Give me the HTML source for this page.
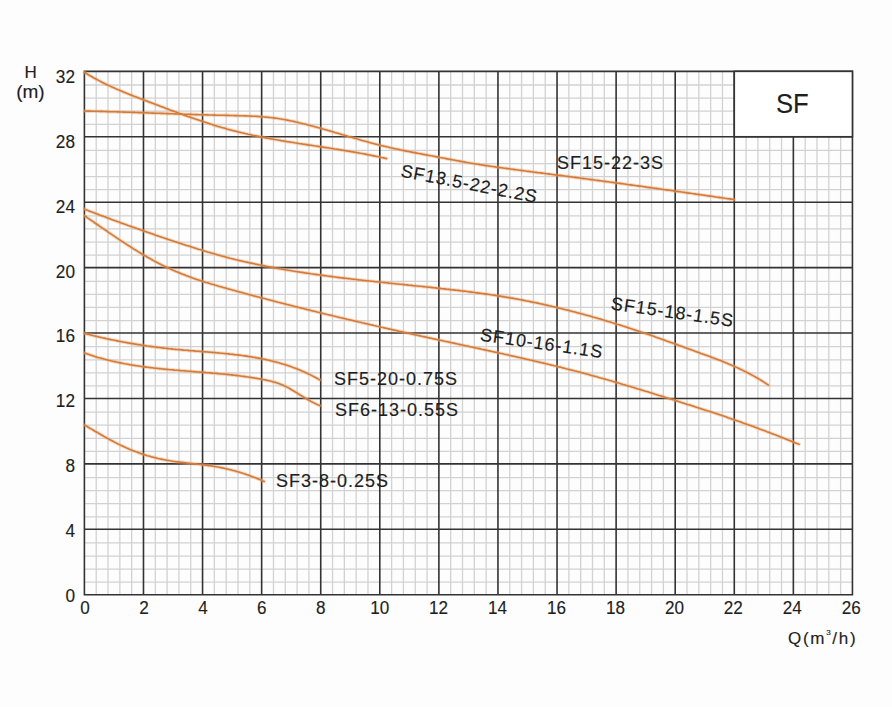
<!DOCTYPE html>
<html><head><meta charset="utf-8"><style>
html,body{margin:0;padding:0;background:#fdfdfd;}
body{width:892px;height:707px;position:relative;overflow:hidden;font-family:"Liberation Sans",sans-serif;}
</style></head><body>
<svg width="892" height="707" viewBox="0 0 892 707" style="position:absolute;left:0;top:0">
<path d="M96.22 71.34V594.70M108.03 71.34V594.70M119.85 71.34V594.70M131.66 71.34V594.70M155.30 71.34V594.70M167.11 71.34V594.70M178.93 71.34V594.70M190.74 71.34V594.70M214.38 71.34V594.70M226.19 71.34V594.70M238.01 71.34V594.70M249.82 71.34V594.70M273.46 71.34V594.70M285.27 71.34V594.70M297.09 71.34V594.70M308.90 71.34V594.70M332.54 71.34V594.70M344.35 71.34V594.70M356.17 71.34V594.70M367.98 71.34V594.70M391.62 71.34V594.70M403.43 71.34V594.70M415.25 71.34V594.70M427.06 71.34V594.70M450.70 71.34V594.70M462.51 71.34V594.70M474.33 71.34V594.70M486.14 71.34V594.70M509.78 71.34V594.70M521.59 71.34V594.70M533.41 71.34V594.70M545.22 71.34V594.70M568.86 71.34V594.70M580.67 71.34V594.70M592.49 71.34V594.70M604.30 71.34V594.70M627.94 71.34V594.70M639.75 71.34V594.70M651.57 71.34V594.70M663.38 71.34V594.70M687.02 71.34V594.70M698.83 71.34V594.70M710.65 71.34V594.70M722.46 71.34V594.70M746.10 71.34V594.70M757.91 71.34V594.70M769.73 71.34V594.70M781.54 71.34V594.70M805.18 71.34V594.70M816.99 71.34V594.70M828.81 71.34V594.70M840.62 71.34V594.70M84.40 582.22H852.44M84.40 569.13H852.44M84.40 556.05H852.44M84.40 542.96H852.44M84.40 516.80H852.44M84.40 503.71H852.44M84.40 490.63H852.44M84.40 477.54H852.44M84.40 451.38H852.44M84.40 438.29H852.44M84.40 425.21H852.44M84.40 412.12H852.44M84.40 385.96H852.44M84.40 372.87H852.44M84.40 359.79H852.44M84.40 346.70H852.44M84.40 320.54H852.44M84.40 307.45H852.44M84.40 294.37H852.44M84.40 281.28H852.44M84.40 255.12H852.44M84.40 242.03H852.44M84.40 228.95H852.44M84.40 215.86H852.44M84.40 189.70H852.44M84.40 176.61H852.44M84.40 163.53H852.44M84.40 150.44H852.44M84.40 124.28H852.44M84.40 111.19H852.44M84.40 98.11H852.44M84.40 85.02H852.44" stroke="#d2d2d2" stroke-width="1.3" fill="none"/>
<path d="M84.40 71.34V594.70M143.48 71.34V594.70M202.56 71.34V594.70M261.64 71.34V594.70M320.72 71.34V594.70M379.80 71.34V594.70M438.88 71.34V594.70M497.96 71.34V594.70M557.04 71.34V594.70M616.12 71.34V594.70M675.20 71.34V594.70M734.28 71.34V594.70M793.36 71.34V594.70M852.44 71.34V594.70M84.40 594.70H852.44M84.40 529.28H852.44M84.40 463.86H852.44M84.40 398.44H852.44M84.40 333.02H852.44M84.40 267.60H852.44M84.40 202.18H852.44M84.40 136.76H852.44M84.40 71.34H852.44" stroke="#333333" stroke-width="1.6" fill="none" stroke-linecap="square"/>
<rect x="734.28" y="71.34" width="118.16" height="65.42" fill="#fff" stroke="#333333" stroke-width="1.6"/>
<g stroke="#f0a868" stroke-width="3.6" fill="none" stroke-linecap="round" stroke-linejoin="round" opacity="0.4"><path d="M84.5 72.3L86.0 73.2L87.5 74.2L89.0 75.1L90.5 76.0L92.0 76.8L93.5 77.7L95.0 78.5L96.5 79.3L98.0 80.1L99.5 80.9L101.0 81.7L102.5 82.5L104.0 83.2L105.5 84.0L107.0 84.7L108.5 85.4L110.0 86.1L111.5 86.8L113.0 87.5L114.5 88.1L116.0 88.8L117.5 89.4L119.0 90.1L120.5 90.7L122.0 91.3L123.5 92.0L125.0 92.6L126.5 93.2L128.0 93.8L129.5 94.4L131.0 95.0L132.5 95.6L134.0 96.2L135.5 96.7L137.0 97.3L138.5 97.9L140.0 98.5L141.5 99.0L143.0 99.6L144.5 100.2L146.0 100.8L147.5 101.3L149.0 101.9L150.5 102.5L152.0 103.1L153.5 103.6L155.0 104.2L156.5 104.8L158.0 105.3L159.5 105.9L161.0 106.5L162.5 107.0L164.0 107.6L165.5 108.2L167.0 108.7L168.5 109.3L170.0 109.9L171.5 110.4L173.0 111.0L174.5 111.6L176.0 112.1L177.5 112.7L179.0 113.2L180.5 113.8L182.0 114.3L183.5 114.9L185.0 115.4L186.5 115.9L188.0 116.5L189.5 117.0L191.0 117.5L192.5 118.1L194.0 118.6L195.5 119.1L197.0 119.6L198.5 120.1L200.0 120.6L201.5 121.1L203.0 121.6L204.5 122.1L206.0 122.6L207.5 123.1L209.0 123.6L210.5 124.1L212.0 124.5L213.5 125.0L215.0 125.5L216.5 125.9L218.0 126.4L219.5 126.8L221.0 127.3L222.5 127.7L224.0 128.1L225.5 128.5L227.0 129.0L228.5 129.4L230.0 129.8L231.5 130.2L233.0 130.6L234.5 130.9L236.0 131.3L237.5 131.7L239.0 132.1L240.5 132.4L242.0 132.8L243.5 133.1L245.0 133.5L246.5 133.8L248.0 134.2L249.5 134.5L251.0 134.8L252.5 135.2L254.0 135.5L255.5 135.8L257.0 136.1L258.5 136.4L260.0 136.7L261.5 137.0L263.0 137.3L264.5 137.6L266.0 137.9L267.5 138.2L269.0 138.4L270.5 138.7L272.0 139.0L273.5 139.3L275.0 139.5L276.5 139.8L278.0 140.0L279.5 140.3L281.0 140.6L282.5 140.8L284.0 141.1L285.5 141.3L287.0 141.6L288.5 141.8L290.0 142.1L291.5 142.3L293.0 142.5L294.5 142.8L296.0 143.0L297.5 143.2L299.0 143.5L300.5 143.7L302.0 143.9L303.5 144.2L305.0 144.4L306.5 144.6L308.0 144.9L309.5 145.1L311.0 145.3L312.5 145.5L314.0 145.8L315.5 146.0L317.0 146.2L318.5 146.4L320.0 146.7L321.5 146.9L323.0 147.1L324.5 147.4L326.0 147.6L327.5 147.8L329.0 148.0L330.5 148.3L332.0 148.5L333.5 148.7L335.0 149.0L336.5 149.2L338.0 149.4L339.5 149.7L341.0 149.9L342.5 150.2L344.0 150.4L345.5 150.7L347.0 150.9L348.5 151.2L350.0 151.4L351.5 151.7L353.0 151.9L354.5 152.2L356.0 152.4L357.5 152.7L359.0 153.0L360.5 153.3L362.0 153.5L363.5 153.8L365.0 154.1L366.5 154.4L368.0 154.7L369.5 155.0L371.0 155.3L372.5 155.6L374.0 155.9L375.5 156.2L377.0 156.5L378.5 156.8L380.0 157.1L381.5 157.5L383.0 157.8L384.5 158.1L386.0 158.5L386.5 158.6"/><path d="M84.5 111.0L86.0 111.0L87.5 111.1L89.0 111.1L90.5 111.1L92.0 111.2L93.5 111.2L95.0 111.2L96.5 111.3L98.0 111.3L99.5 111.4L101.0 111.4L102.5 111.4L104.0 111.5L105.5 111.5L107.0 111.6L108.5 111.6L110.0 111.7L111.5 111.7L113.0 111.7L114.5 111.8L116.0 111.8L117.5 111.9L119.0 111.9L120.5 112.0L122.0 112.0L123.5 112.1L125.0 112.1L126.5 112.2L128.0 112.2L129.5 112.3L131.0 112.3L132.5 112.4L134.0 112.4L135.5 112.5L137.0 112.5L138.5 112.6L140.0 112.6L141.5 112.7L143.0 112.7L144.5 112.8L146.0 112.8L147.5 112.9L149.0 113.0L150.5 113.0L152.0 113.1L153.5 113.1L155.0 113.2L156.5 113.2L158.0 113.3L159.5 113.3L161.0 113.4L162.5 113.4L164.0 113.5L165.5 113.5L167.0 113.6L168.5 113.6L170.0 113.7L171.5 113.8L173.0 113.8L174.5 113.9L176.0 113.9L177.5 114.0L179.0 114.0L180.5 114.1L182.0 114.1L183.5 114.2L185.0 114.2L186.5 114.3L188.0 114.3L189.5 114.4L191.0 114.4L192.5 114.5L194.0 114.5L195.5 114.6L197.0 114.6L198.5 114.7L200.0 114.7L201.5 114.7L203.0 114.8L204.5 114.8L206.0 114.9L207.5 114.9L209.0 115.0L210.5 115.0L212.0 115.0L213.5 115.1L215.0 115.1L216.5 115.2L218.0 115.2L219.5 115.2L221.0 115.3L222.5 115.3L224.0 115.3L225.5 115.4L227.0 115.4L228.5 115.4L230.0 115.5L231.5 115.5L233.0 115.5L234.5 115.6L236.0 115.6L237.5 115.6L239.0 115.7L240.5 115.7L242.0 115.8L243.5 115.8L245.0 115.9L246.5 115.9L248.0 116.0L249.5 116.0L251.0 116.1L252.5 116.2L254.0 116.2L255.5 116.3L257.0 116.4L258.5 116.5L260.0 116.6L261.5 116.7L263.0 116.8L264.5 117.0L266.0 117.1L267.5 117.2L269.0 117.4L270.5 117.5L272.0 117.7L273.5 117.9L275.0 118.1L276.5 118.3L278.0 118.5L279.5 118.8L281.0 119.0L282.5 119.3L284.0 119.5L285.5 119.8L287.0 120.1L288.5 120.4L290.0 120.7L291.5 121.0L293.0 121.3L294.5 121.6L296.0 122.0L297.5 122.3L299.0 122.7L300.5 123.0L302.0 123.4L303.5 123.8L305.0 124.1L306.5 124.5L308.0 124.9L309.5 125.3L311.0 125.7L312.5 126.1L314.0 126.5L315.5 126.9L317.0 127.3L318.5 127.7L320.0 128.1L321.5 128.5L323.0 129.0L324.5 129.4L326.0 129.8L327.5 130.3L329.0 130.7L330.5 131.1L332.0 131.6L333.5 132.0L335.0 132.5L336.5 132.9L338.0 133.3L339.5 133.8L341.0 134.2L342.5 134.7L344.0 135.1L345.5 135.6L347.0 136.0L348.5 136.5L350.0 136.9L351.5 137.3L353.0 137.8L354.5 138.2L356.0 138.6L357.5 139.1L359.0 139.5L360.5 139.9L362.0 140.4L363.5 140.8L365.0 141.2L366.5 141.6L368.0 142.0L369.5 142.5L371.0 142.9L372.5 143.3L374.0 143.7L375.5 144.1L377.0 144.4L378.5 144.8L380.0 145.2L381.5 145.6L383.0 145.9L384.5 146.3L386.0 146.6L387.5 147.0L389.0 147.3L390.5 147.7L392.0 148.0L393.5 148.4L395.0 148.7L396.5 149.0L398.0 149.3L399.5 149.6L401.0 150.0L402.5 150.3L404.0 150.6L405.5 150.9L407.0 151.2L408.5 151.5L410.0 151.8L411.5 152.1L413.0 152.4L414.5 152.6L416.0 152.9L417.5 153.2L419.0 153.5L420.5 153.8L422.0 154.1L423.5 154.4L425.0 154.6L426.5 154.9L428.0 155.2L429.5 155.5L431.0 155.8L432.5 156.0L434.0 156.3L435.5 156.6L437.0 156.9L438.5 157.2L440.0 157.5L441.5 157.7L443.0 158.0L444.5 158.3L446.0 158.6L447.5 158.9L449.0 159.2L450.5 159.4L452.0 159.7L453.5 160.0L455.0 160.3L456.5 160.6L458.0 160.8L459.5 161.1L461.0 161.4L462.5 161.7L464.0 161.9L465.5 162.2L467.0 162.5L468.5 162.7L470.0 163.0L471.5 163.2L473.0 163.5L474.5 163.7L476.0 164.0L477.5 164.2L479.0 164.4L480.5 164.7L482.0 164.9L483.5 165.2L485.0 165.4L486.5 165.6L488.0 165.8L489.5 166.1L491.0 166.3L492.5 166.5L494.0 166.7L495.5 166.9L497.0 167.2L498.5 167.4L500.0 167.6L501.5 167.8L503.0 168.0L504.5 168.2L506.0 168.4L507.5 168.6L509.0 168.8L510.5 169.0L512.0 169.2L513.5 169.4L515.0 169.6L516.5 169.8L518.0 170.0L519.5 170.2L521.0 170.4L522.5 170.6L524.0 170.8L525.5 171.0L527.0 171.2L528.5 171.4L530.0 171.6L531.5 171.8L533.0 172.0L534.5 172.2L536.0 172.4L537.5 172.6L539.0 172.7L540.5 172.9L542.0 173.1L543.5 173.3L545.0 173.5L546.5 173.7L548.0 173.9L549.5 174.1L551.0 174.3L552.5 174.5L554.0 174.7L555.5 174.9L557.0 175.1L558.5 175.2L560.0 175.4L561.5 175.6L563.0 175.8L564.5 176.0L566.0 176.2L567.5 176.4L569.0 176.6L570.5 176.8L572.0 177.0L573.5 177.2L575.0 177.4L576.5 177.6L578.0 177.8L579.5 178.0L581.0 178.2L582.5 178.4L584.0 178.6L585.5 178.8L587.0 179.0L588.5 179.2L590.0 179.4L591.5 179.6L593.0 179.8L594.5 180.0L596.0 180.2L597.5 180.4L599.0 180.6L600.5 180.8L602.0 181.0L603.5 181.2L605.0 181.4L606.5 181.6L608.0 181.8L609.5 182.0L611.0 182.2L612.5 182.4L614.0 182.6L615.5 182.8L617.0 183.0L618.5 183.2L620.0 183.4L621.5 183.6L623.0 183.8L624.5 184.0L626.0 184.2L627.5 184.5L629.0 184.7L630.5 184.9L632.0 185.1L633.5 185.3L635.0 185.5L636.5 185.7L638.0 185.9L639.5 186.1L641.0 186.3L642.5 186.5L644.0 186.7L645.5 186.9L647.0 187.2L648.5 187.4L650.0 187.6L651.5 187.8L653.0 188.0L654.5 188.2L656.0 188.4L657.5 188.6L659.0 188.8L660.5 189.0L662.0 189.3L663.5 189.5L665.0 189.7L666.5 189.9L668.0 190.1L669.5 190.3L671.0 190.5L672.5 190.7L674.0 190.9L675.5 191.2L677.0 191.4L678.5 191.6L680.0 191.8L681.5 192.0L683.0 192.2L684.5 192.4L686.0 192.7L687.5 192.9L689.0 193.1L690.5 193.3L692.0 193.5L693.5 193.7L695.0 193.9L696.5 194.2L698.0 194.4L699.5 194.6L701.0 194.8L702.5 195.0L704.0 195.2L705.5 195.4L707.0 195.7L708.5 195.9L710.0 196.1L711.5 196.3L713.0 196.5L714.5 196.7L716.0 197.0L717.5 197.2L719.0 197.4L720.5 197.6L722.0 197.8L723.5 198.0L725.0 198.3L726.5 198.5L728.0 198.7L729.5 198.9L731.0 199.1L732.5 199.3L734.0 199.6L734.2 199.6"/><path d="M84.5 209.2L86.0 209.8L87.5 210.3L89.0 210.9L90.5 211.5L92.0 212.1L93.5 212.6L95.0 213.2L96.5 213.8L98.0 214.3L99.5 214.9L101.0 215.4L102.5 216.0L104.0 216.6L105.5 217.1L107.0 217.7L108.5 218.2L110.0 218.8L111.5 219.4L113.0 219.9L114.5 220.5L116.0 221.0L117.5 221.6L119.0 222.1L120.5 222.7L122.0 223.2L123.5 223.7L125.0 224.3L126.5 224.8L128.0 225.4L129.5 225.9L131.0 226.4L132.5 227.0L134.0 227.5L135.5 228.0L137.0 228.6L138.5 229.1L140.0 229.6L141.5 230.2L143.0 230.7L144.5 231.2L146.0 231.7L147.5 232.3L149.0 232.8L150.5 233.3L152.0 233.8L153.5 234.3L155.0 234.9L156.5 235.4L158.0 235.9L159.5 236.4L161.0 236.9L162.5 237.4L164.0 237.9L165.5 238.4L167.0 238.9L168.5 239.4L170.0 239.9L171.5 240.4L173.0 240.9L174.5 241.4L176.0 241.9L177.5 242.4L179.0 242.9L180.5 243.4L182.0 243.9L183.5 244.4L185.0 244.9L186.5 245.4L188.0 245.8L189.5 246.3L191.0 246.8L192.5 247.3L194.0 247.7L195.5 248.2L197.0 248.7L198.5 249.2L200.0 249.6L201.5 250.1L203.0 250.5L204.5 251.0L206.0 251.4L207.5 251.9L209.0 252.3L210.5 252.8L212.0 253.2L213.5 253.6L215.0 254.1L216.5 254.5L218.0 254.9L219.5 255.3L221.0 255.8L222.5 256.2L224.0 256.6L225.5 257.0L227.0 257.4L228.5 257.8L230.0 258.2L231.5 258.5L233.0 258.9L234.5 259.3L236.0 259.7L237.5 260.0L239.0 260.4L240.5 260.7L242.0 261.1L243.5 261.4L245.0 261.8L246.5 262.1L248.0 262.4L249.5 262.8L251.0 263.1L252.5 263.4L254.0 263.7L255.5 264.1L257.0 264.4L258.5 264.7L260.0 265.0L261.5 265.3L263.0 265.6L264.5 265.9L266.0 266.2L267.5 266.5L269.0 266.8L270.5 267.0L272.0 267.3L273.5 267.6L275.0 267.9L276.5 268.2L278.0 268.4L279.5 268.7L281.0 269.0L282.5 269.2L284.0 269.5L285.5 269.7L287.0 270.0L288.5 270.3L290.0 270.5L291.5 270.7L293.0 271.0L294.5 271.2L296.0 271.5L297.5 271.7L299.0 271.9L300.5 272.2L302.0 272.4L303.5 272.6L305.0 272.9L306.5 273.1L308.0 273.3L309.5 273.5L311.0 273.8L312.5 274.0L314.0 274.2L315.5 274.4L317.0 274.6L318.5 274.8L320.0 275.0L321.5 275.2L323.0 275.4L324.5 275.6L326.0 275.8L327.5 276.0L329.0 276.2L330.5 276.4L332.0 276.6L333.5 276.8L335.0 277.0L336.5 277.2L338.0 277.4L339.5 277.6L341.0 277.7L342.5 277.9L344.0 278.1L345.5 278.3L347.0 278.5L348.5 278.6L350.0 278.8L351.5 279.0L353.0 279.2L354.5 279.3L356.0 279.5L357.5 279.7L359.0 279.9L360.5 280.0L362.0 280.2L363.5 280.4L365.0 280.5L366.5 280.7L368.0 280.8L369.5 281.0L371.0 281.2L372.5 281.3L374.0 281.5L375.5 281.7L377.0 281.8L378.5 282.0L380.0 282.1L381.5 282.3L383.0 282.5L384.5 282.6L386.0 282.8L387.5 282.9L389.0 283.1L390.5 283.2L392.0 283.4L393.5 283.5L395.0 283.7L396.5 283.9L398.0 284.0L399.5 284.2L401.0 284.3L402.5 284.5L404.0 284.6L405.5 284.8L407.0 284.9L408.5 285.1L410.0 285.2L411.5 285.4L413.0 285.6L414.5 285.7L416.0 285.9L417.5 286.0L419.0 286.2L420.5 286.3L422.0 286.5L423.5 286.6L425.0 286.8L426.5 287.0L428.0 287.1L429.5 287.3L431.0 287.4L432.5 287.6L434.0 287.8L435.5 287.9L437.0 288.1L438.5 288.2L440.0 288.4L441.5 288.6L443.0 288.7L444.5 288.9L446.0 289.1L447.5 289.2L449.0 289.4L450.5 289.6L452.0 289.7L453.5 289.9L455.0 290.1L456.5 290.3L458.0 290.4L459.5 290.6L461.0 290.8L462.5 291.0L464.0 291.1L465.5 291.3L467.0 291.5L468.5 291.7L470.0 291.9L471.5 292.1L473.0 292.3L474.5 292.5L476.0 292.7L477.5 292.9L479.0 293.1L480.5 293.3L482.0 293.5L483.5 293.7L485.0 293.9L486.5 294.1L488.0 294.3L489.5 294.5L491.0 294.8L492.5 295.0L494.0 295.2L495.5 295.4L497.0 295.7L498.5 295.9L500.0 296.1L501.5 296.4L503.0 296.6L504.5 296.9L506.0 297.1L507.5 297.4L509.0 297.6L510.5 297.9L512.0 298.1L513.5 298.4L515.0 298.7L516.5 298.9L518.0 299.2L519.5 299.5L521.0 299.8L522.5 300.1L524.0 300.4L525.5 300.7L527.0 301.0L528.5 301.3L530.0 301.6L531.5 301.9L533.0 302.2L534.5 302.5L536.0 302.8L537.5 303.1L539.0 303.4L540.5 303.8L542.0 304.1L543.5 304.4L545.0 304.8L546.5 305.1L548.0 305.4L549.5 305.8L551.0 306.1L552.5 306.5L554.0 306.8L555.5 307.2L557.0 307.6L558.5 307.9L560.0 308.3L561.5 308.6L563.0 309.0L564.5 309.4L566.0 309.8L567.5 310.1L569.0 310.5L570.5 310.9L572.0 311.3L573.5 311.7L575.0 312.1L576.5 312.5L578.0 312.9L579.5 313.3L581.0 313.7L582.5 314.1L584.0 314.5L585.5 314.9L587.0 315.3L588.5 315.7L590.0 316.1L591.5 316.5L593.0 317.0L594.5 317.4L596.0 317.8L597.5 318.3L599.0 318.7L600.5 319.1L602.0 319.6L603.5 320.0L605.0 320.5L606.5 320.9L608.0 321.4L609.5 321.8L611.0 322.3L612.5 322.8L614.0 323.2L615.5 323.7L617.0 324.2L618.5 324.6L620.0 325.1L621.5 325.6L623.0 326.1L624.5 326.5L626.0 327.0L627.5 327.5L629.0 328.0L630.5 328.5L632.0 329.0L633.5 329.5L635.0 330.0L636.5 330.5L638.0 331.0L639.5 331.5L641.0 332.0L642.5 332.5L644.0 333.0L645.5 333.5L647.0 334.1L648.5 334.6L650.0 335.1L651.5 335.6L653.0 336.1L654.5 336.6L656.0 337.2L657.5 337.7L659.0 338.2L660.5 338.8L662.0 339.3L663.5 339.8L665.0 340.3L666.5 340.9L668.0 341.4L669.5 342.0L671.0 342.5L672.5 343.0L674.0 343.6L675.5 344.1L677.0 344.6L678.5 345.2L680.0 345.7L681.5 346.3L683.0 346.8L684.5 347.4L686.0 347.9L687.5 348.4L689.0 349.0L690.5 349.5L692.0 350.1L693.5 350.6L695.0 351.2L696.5 351.7L698.0 352.3L699.5 352.8L701.0 353.4L702.5 353.9L704.0 354.4L705.5 355.0L707.0 355.5L708.5 356.1L710.0 356.6L711.5 357.2L713.0 357.8L714.5 358.3L716.0 358.9L717.5 359.5L719.0 360.1L720.5 360.6L722.0 361.2L723.5 361.8L725.0 362.4L726.5 363.0L728.0 363.7L729.5 364.3L731.0 364.9L732.5 365.6L734.0 366.2L735.5 366.9L737.0 367.6L738.5 368.3L740.0 369.0L741.5 369.7L743.0 370.4L744.5 371.2L746.0 371.9L747.5 372.7L749.0 373.5L750.5 374.3L752.0 375.1L753.5 375.9L755.0 376.7L756.5 377.6L758.0 378.5L759.5 379.4L761.0 380.3L762.5 381.2L764.0 382.2L765.5 383.1L767.0 384.1L768.4 385.1"/><path d="M84.5 215.7L86.0 216.7L87.5 217.8L89.0 218.8L90.5 219.8L92.0 220.9L93.5 221.9L95.0 223.0L96.5 224.0L98.0 225.0L99.5 226.1L101.0 227.1L102.5 228.2L104.0 229.2L105.5 230.2L107.0 231.2L108.5 232.3L110.0 233.3L111.5 234.3L113.0 235.3L114.5 236.4L116.0 237.4L117.5 238.4L119.0 239.4L120.5 240.4L122.0 241.4L123.5 242.3L125.0 243.3L126.5 244.3L128.0 245.3L129.5 246.2L131.0 247.2L132.5 248.1L134.0 249.1L135.5 250.0L137.0 250.9L138.5 251.9L140.0 252.8L141.5 253.7L143.0 254.6L144.5 255.5L146.0 256.3L147.5 257.2L149.0 258.0L150.5 258.9L152.0 259.7L153.5 260.6L155.0 261.4L156.5 262.2L158.0 263.0L159.5 263.7L161.0 264.5L162.5 265.3L164.0 266.0L165.5 266.7L167.0 267.4L168.5 268.1L170.0 268.8L171.5 269.5L173.0 270.2L174.5 270.8L176.0 271.5L177.5 272.1L179.0 272.7L180.5 273.3L182.0 273.9L183.5 274.5L185.0 275.1L186.5 275.7L188.0 276.2L189.5 276.8L191.0 277.3L192.5 277.9L194.0 278.4L195.5 278.9L197.0 279.4L198.5 279.9L200.0 280.4L201.5 280.9L203.0 281.4L204.5 281.9L206.0 282.4L207.5 282.8L209.0 283.3L210.5 283.8L212.0 284.2L213.5 284.6L215.0 285.1L216.5 285.5L218.0 286.0L219.5 286.4L221.0 286.8L222.5 287.3L224.0 287.7L225.5 288.1L227.0 288.5L228.5 288.9L230.0 289.3L231.5 289.8L233.0 290.2L234.5 290.6L236.0 291.0L237.5 291.4L239.0 291.8L240.5 292.2L242.0 292.6L243.5 293.0L245.0 293.4L246.5 293.8L248.0 294.3L249.5 294.7L251.0 295.1L252.5 295.5L254.0 295.9L255.5 296.3L257.0 296.7L258.5 297.1L260.0 297.5L261.5 297.9L263.0 298.2L264.5 298.6L266.0 299.0L267.5 299.4L269.0 299.8L270.5 300.2L272.0 300.6L273.5 301.0L275.0 301.4L276.5 301.8L278.0 302.2L279.5 302.5L281.0 302.9L282.5 303.3L284.0 303.7L285.5 304.1L287.0 304.5L288.5 304.8L290.0 305.2L291.5 305.6L293.0 306.0L294.5 306.4L296.0 306.7L297.5 307.1L299.0 307.5L300.5 307.9L302.0 308.2L303.5 308.6L305.0 309.0L306.5 309.4L308.0 309.7L309.5 310.1L311.0 310.5L312.5 310.9L314.0 311.2L315.5 311.6L317.0 312.0L318.5 312.3L320.0 312.7L321.5 313.1L323.0 313.4L324.5 313.8L326.0 314.2L327.5 314.5L329.0 314.9L330.5 315.2L332.0 315.6L333.5 316.0L335.0 316.3L336.5 316.7L338.0 317.0L339.5 317.4L341.0 317.8L342.5 318.1L344.0 318.5L345.5 318.8L347.0 319.2L348.5 319.5L350.0 319.9L351.5 320.2L353.0 320.6L354.5 320.9L356.0 321.3L357.5 321.6L359.0 322.0L360.5 322.3L362.0 322.7L363.5 323.0L365.0 323.4L366.5 323.7L368.0 324.1L369.5 324.4L371.0 324.8L372.5 325.1L374.0 325.5L375.5 325.8L377.0 326.2L378.5 326.5L380.0 326.8L381.5 327.2L383.0 327.5L384.5 327.9L386.0 328.2L387.5 328.6L389.0 328.9L390.5 329.2L392.0 329.6L393.5 329.9L395.0 330.2L396.5 330.6L398.0 330.9L399.5 331.3L401.0 331.6L402.5 331.9L404.0 332.3L405.5 332.6L407.0 332.9L408.5 333.3L410.0 333.6L411.5 333.9L413.0 334.3L414.5 334.6L416.0 334.9L417.5 335.3L419.0 335.6L420.5 335.9L422.0 336.3L423.5 336.6L425.0 336.9L426.5 337.2L428.0 337.6L429.5 337.9L431.0 338.2L432.5 338.6L434.0 338.9L435.5 339.2L437.0 339.5L438.5 339.9L440.0 340.2L441.5 340.5L443.0 340.8L444.5 341.2L446.0 341.5L447.5 341.8L449.0 342.1L450.5 342.5L452.0 342.8L453.5 343.1L455.0 343.4L456.5 343.7L458.0 344.1L459.5 344.4L461.0 344.7L462.5 345.0L464.0 345.4L465.5 345.7L467.0 346.0L468.5 346.3L470.0 346.7L471.5 347.0L473.0 347.3L474.5 347.6L476.0 348.0L477.5 348.3L479.0 348.6L480.5 348.9L482.0 349.3L483.5 349.6L485.0 349.9L486.5 350.2L488.0 350.6L489.5 350.9L491.0 351.2L492.5 351.5L494.0 351.9L495.5 352.2L497.0 352.5L498.5 352.9L500.0 353.2L501.5 353.5L503.0 353.8L504.5 354.2L506.0 354.5L507.5 354.8L509.0 355.2L510.5 355.5L512.0 355.9L513.5 356.2L515.0 356.5L516.5 356.9L518.0 357.2L519.5 357.5L521.0 357.9L522.5 358.2L524.0 358.6L525.5 358.9L527.0 359.3L528.5 359.6L530.0 360.0L531.5 360.3L533.0 360.6L534.5 361.0L536.0 361.4L537.5 361.7L539.0 362.1L540.5 362.4L542.0 362.8L543.5 363.1L545.0 363.5L546.5 363.8L548.0 364.2L549.5 364.6L551.0 364.9L552.5 365.3L554.0 365.7L555.5 366.0L557.0 366.4L558.5 366.8L560.0 367.1L561.5 367.5L563.0 367.9L564.5 368.3L566.0 368.7L567.5 369.0L569.0 369.4L570.5 369.8L572.0 370.2L573.5 370.6L575.0 371.0L576.5 371.3L578.0 371.7L579.5 372.1L581.0 372.5L582.5 372.9L584.0 373.3L585.5 373.7L587.0 374.1L588.5 374.5L590.0 374.9L591.5 375.4L593.0 375.8L594.5 376.2L596.0 376.6L597.5 377.0L599.0 377.4L600.5 377.9L602.0 378.3L603.5 378.7L605.0 379.1L606.5 379.6L608.0 380.0L609.5 380.4L611.0 380.8L612.5 381.3L614.0 381.7L615.5 382.2L617.0 382.6L618.5 383.0L620.0 383.5L621.5 383.9L623.0 384.4L624.5 384.8L626.0 385.3L627.5 385.7L629.0 386.2L630.5 386.6L632.0 387.1L633.5 387.5L635.0 388.0L636.5 388.4L638.0 388.9L639.5 389.3L641.0 389.8L642.5 390.3L644.0 390.7L645.5 391.2L647.0 391.6L648.5 392.1L650.0 392.6L651.5 393.0L653.0 393.5L654.5 394.0L656.0 394.4L657.5 394.9L659.0 395.4L660.5 395.8L662.0 396.3L663.5 396.8L665.0 397.3L666.5 397.7L668.0 398.2L669.5 398.7L671.0 399.1L672.5 399.6L674.0 400.1L675.5 400.6L677.0 401.0L678.5 401.5L680.0 402.0L681.5 402.5L683.0 402.9L684.5 403.4L686.0 403.9L687.5 404.4L689.0 404.8L690.5 405.3L692.0 405.8L693.5 406.3L695.0 406.8L696.5 407.3L698.0 407.7L699.5 408.2L701.0 408.7L702.5 409.2L704.0 409.7L705.5 410.2L707.0 410.7L708.5 411.1L710.0 411.6L711.5 412.1L713.0 412.6L714.5 413.1L716.0 413.6L717.5 414.1L719.0 414.6L720.5 415.1L722.0 415.6L723.5 416.1L725.0 416.6L726.5 417.1L728.0 417.7L729.5 418.2L731.0 418.7L732.5 419.2L734.0 419.7L735.5 420.2L737.0 420.8L738.5 421.3L740.0 421.8L741.5 422.3L743.0 422.9L744.5 423.4L746.0 423.9L747.5 424.5L749.0 425.0L750.5 425.5L752.0 426.1L753.5 426.6L755.0 427.2L756.5 427.7L758.0 428.3L759.5 428.9L761.0 429.4L762.5 430.0L764.0 430.5L765.5 431.1L767.0 431.7L768.5 432.2L770.0 432.8L771.5 433.4L773.0 434.0L774.5 434.6L776.0 435.1L777.5 435.7L779.0 436.3L780.5 436.9L782.0 437.5L783.5 438.1L785.0 438.7L786.5 439.3L788.0 439.9L789.5 440.5L791.0 441.1L792.5 441.7L794.0 442.3L795.5 442.9L797.0 443.5L798.5 444.1L799.1 444.3"/><path d="M84.5 333.4L86.0 333.8L87.5 334.2L89.0 334.5L90.5 334.9L92.0 335.3L93.5 335.7L95.0 336.0L96.5 336.4L98.0 336.7L99.5 337.1L101.0 337.4L102.5 337.8L104.0 338.1L105.5 338.4L107.0 338.8L108.5 339.1L110.0 339.4L111.5 339.7L113.0 340.0L114.5 340.3L116.0 340.6L117.5 340.9L119.0 341.2L120.5 341.5L122.0 341.8L123.5 342.1L125.0 342.3L126.5 342.6L128.0 342.9L129.5 343.1L131.0 343.4L132.5 343.6L134.0 343.9L135.5 344.1L137.0 344.4L138.5 344.6L140.0 344.8L141.5 345.1L143.0 345.3L144.5 345.5L146.0 345.7L147.5 346.0L149.0 346.2L150.5 346.4L152.0 346.6L153.5 346.8L155.0 347.0L156.5 347.2L158.0 347.4L159.5 347.5L161.0 347.7L162.5 347.9L164.0 348.1L165.5 348.2L167.0 348.4L168.5 348.6L170.0 348.7L171.5 348.9L173.0 349.1L174.5 349.2L176.0 349.4L177.5 349.5L179.0 349.6L180.5 349.8L182.0 349.9L183.5 350.1L185.0 350.2L186.5 350.3L188.0 350.4L189.5 350.6L191.0 350.7L192.5 350.8L194.0 350.9L195.5 351.1L197.0 351.2L198.5 351.3L200.0 351.4L201.5 351.5L203.0 351.7L204.5 351.8L206.0 351.9L207.5 352.0L209.0 352.1L210.5 352.3L212.0 352.4L213.5 352.5L215.0 352.6L216.5 352.8L218.0 352.9L219.5 353.0L221.0 353.2L222.5 353.3L224.0 353.5L225.5 353.6L227.0 353.7L228.5 353.9L230.0 354.1L231.5 354.2L233.0 354.4L234.5 354.6L236.0 354.7L237.5 354.9L239.0 355.1L240.5 355.3L242.0 355.5L243.5 355.7L245.0 355.9L246.5 356.1L248.0 356.4L249.5 356.6L251.0 356.8L252.5 357.1L254.0 357.3L255.5 357.6L257.0 357.9L258.5 358.1L260.0 358.4L261.5 358.7L263.0 359.0L264.5 359.3L266.0 359.6L267.5 360.0L269.0 360.3L270.5 360.7L272.0 361.0L273.5 361.4L275.0 361.8L276.5 362.2L278.0 362.6L279.5 363.0L281.0 363.4L282.5 363.9L284.0 364.3L285.5 364.8L287.0 365.3L288.5 365.8L290.0 366.3L291.5 366.8L293.0 367.4L294.5 367.9L296.0 368.5L297.5 369.1L299.0 369.7L300.5 370.3L302.0 371.0L303.5 371.6L305.0 372.3L306.5 373.0L308.0 373.7L309.5 374.4L311.0 375.1L312.5 375.9L314.0 376.7L315.5 377.5L317.0 378.3L318.5 379.1L319.8 379.9"/><path d="M84.5 353.0L86.0 353.5L87.5 354.0L89.0 354.5L90.5 355.0L92.0 355.5L93.5 356.0L95.0 356.5L96.5 356.9L98.0 357.4L99.5 357.8L101.0 358.2L102.5 358.6L104.0 359.0L105.5 359.4L107.0 359.8L108.5 360.2L110.0 360.5L111.5 360.9L113.0 361.3L114.5 361.6L116.0 361.9L117.5 362.3L119.0 362.6L120.5 362.9L122.0 363.2L123.5 363.5L125.0 363.8L126.5 364.0L128.0 364.3L129.5 364.6L131.0 364.8L132.5 365.1L134.0 365.3L135.5 365.6L137.0 365.8L138.5 366.0L140.0 366.2L141.5 366.5L143.0 366.7L144.5 366.9L146.0 367.1L147.5 367.3L149.0 367.5L150.5 367.6L152.0 367.8L153.5 368.0L155.0 368.2L156.5 368.3L158.0 368.5L159.5 368.6L161.0 368.8L162.5 369.0L164.0 369.1L165.5 369.3L167.0 369.4L168.5 369.5L170.0 369.7L171.5 369.8L173.0 369.9L174.5 370.1L176.0 370.2L177.5 370.3L179.0 370.4L180.5 370.6L182.0 370.7L183.5 370.8L185.0 370.9L186.5 371.0L188.0 371.2L189.5 371.3L191.0 371.4L192.5 371.5L194.0 371.6L195.5 371.7L197.0 371.9L198.5 372.0L200.0 372.1L201.5 372.2L203.0 372.3L204.5 372.4L206.0 372.6L207.5 372.7L209.0 372.8L210.5 372.9L212.0 373.1L213.5 373.2L215.0 373.3L216.5 373.4L218.0 373.6L219.5 373.7L221.0 373.9L222.5 374.0L224.0 374.1L225.5 374.3L227.0 374.4L228.5 374.6L230.0 374.8L231.5 374.9L233.0 375.1L234.5 375.3L236.0 375.4L237.5 375.6L239.0 375.8L240.5 376.0L242.0 376.2L243.5 376.4L245.0 376.6L246.5 376.8L248.0 377.0L249.5 377.2L251.0 377.4L252.5 377.7L254.0 377.9L255.5 378.2L257.0 378.4L258.5 378.7L260.0 378.9L261.5 379.2L263.0 379.5L264.5 379.8L266.0 380.1L267.5 380.4L269.0 380.7L270.5 381.1L272.0 381.5L273.5 381.9L275.0 382.3L276.5 382.8L278.0 383.3L279.5 383.8L281.0 384.4L282.5 385.0L284.0 385.7L285.5 386.4L287.0 387.1L288.5 387.9L290.0 388.8L291.5 389.7L293.0 390.6L294.5 391.5L296.0 392.4L297.5 393.3L299.0 394.3L300.5 395.2L302.0 396.1L303.5 397.0L305.0 397.9L306.5 398.8L308.0 399.7L309.5 400.5L311.0 401.4L312.5 402.2L314.0 402.9L315.5 403.7L317.0 404.4L318.5 405.1L319.8 405.6"/><path d="M84.5 425.1L86.0 425.9L87.5 426.8L89.0 427.7L90.5 428.6L92.0 429.4L93.5 430.3L95.0 431.2L96.5 432.0L98.0 432.9L99.5 433.8L101.0 434.7L102.5 435.5L104.0 436.4L105.5 437.2L107.0 438.1L108.5 438.9L110.0 439.7L111.5 440.5L113.0 441.3L114.5 442.1L116.0 442.9L117.5 443.7L119.0 444.4L120.5 445.1L122.0 445.8L123.5 446.5L125.0 447.2L126.5 447.9L128.0 448.5L129.5 449.2L131.0 449.8L132.5 450.4L134.0 451.0L135.5 451.6L137.0 452.1L138.5 452.7L140.0 453.2L141.5 453.7L143.0 454.2L144.5 454.7L146.0 455.2L147.5 455.7L149.0 456.1L150.5 456.5L152.0 456.9L153.5 457.3L155.0 457.7L156.5 458.1L158.0 458.5L159.5 458.8L161.0 459.1L162.5 459.4L164.0 459.7L165.5 460.0L167.0 460.3L168.5 460.5L170.0 460.8L171.5 461.0L173.0 461.3L174.5 461.5L176.0 461.7L177.5 461.9L179.0 462.1L180.5 462.3L182.0 462.4L183.5 462.6L185.0 462.8L186.5 463.0L188.0 463.1L189.5 463.3L191.0 463.5L192.5 463.6L194.0 463.8L195.5 463.9L197.0 464.1L198.5 464.3L200.0 464.5L201.5 464.6L203.0 464.8L204.5 465.0L206.0 465.2L207.5 465.4L209.0 465.6L210.5 465.8L212.0 466.0L213.5 466.3L215.0 466.5L216.5 466.8L218.0 467.0L219.5 467.3L221.0 467.6L222.5 467.9L224.0 468.2L225.5 468.6L227.0 468.9L228.5 469.3L230.0 469.6L231.5 470.0L233.0 470.4L234.5 470.8L236.0 471.2L237.5 471.7L239.0 472.1L240.5 472.6L242.0 473.1L243.5 473.6L245.0 474.0L246.5 474.6L248.0 475.1L249.5 475.6L251.0 476.2L252.5 476.7L254.0 477.3L255.5 477.8L257.0 478.4L258.5 479.0L260.0 479.6L261.5 480.3L263.0 480.9L264.2 481.4"/></g>
<g stroke="#d27b3c" stroke-width="1.6" fill="none" stroke-linecap="round" stroke-linejoin="round"><path d="M84.5 72.3L86.0 73.2L87.5 74.2L89.0 75.1L90.5 76.0L92.0 76.8L93.5 77.7L95.0 78.5L96.5 79.3L98.0 80.1L99.5 80.9L101.0 81.7L102.5 82.5L104.0 83.2L105.5 84.0L107.0 84.7L108.5 85.4L110.0 86.1L111.5 86.8L113.0 87.5L114.5 88.1L116.0 88.8L117.5 89.4L119.0 90.1L120.5 90.7L122.0 91.3L123.5 92.0L125.0 92.6L126.5 93.2L128.0 93.8L129.5 94.4L131.0 95.0L132.5 95.6L134.0 96.2L135.5 96.7L137.0 97.3L138.5 97.9L140.0 98.5L141.5 99.0L143.0 99.6L144.5 100.2L146.0 100.8L147.5 101.3L149.0 101.9L150.5 102.5L152.0 103.1L153.5 103.6L155.0 104.2L156.5 104.8L158.0 105.3L159.5 105.9L161.0 106.5L162.5 107.0L164.0 107.6L165.5 108.2L167.0 108.7L168.5 109.3L170.0 109.9L171.5 110.4L173.0 111.0L174.5 111.6L176.0 112.1L177.5 112.7L179.0 113.2L180.5 113.8L182.0 114.3L183.5 114.9L185.0 115.4L186.5 115.9L188.0 116.5L189.5 117.0L191.0 117.5L192.5 118.1L194.0 118.6L195.5 119.1L197.0 119.6L198.5 120.1L200.0 120.6L201.5 121.1L203.0 121.6L204.5 122.1L206.0 122.6L207.5 123.1L209.0 123.6L210.5 124.1L212.0 124.5L213.5 125.0L215.0 125.5L216.5 125.9L218.0 126.4L219.5 126.8L221.0 127.3L222.5 127.7L224.0 128.1L225.5 128.5L227.0 129.0L228.5 129.4L230.0 129.8L231.5 130.2L233.0 130.6L234.5 130.9L236.0 131.3L237.5 131.7L239.0 132.1L240.5 132.4L242.0 132.8L243.5 133.1L245.0 133.5L246.5 133.8L248.0 134.2L249.5 134.5L251.0 134.8L252.5 135.2L254.0 135.5L255.5 135.8L257.0 136.1L258.5 136.4L260.0 136.7L261.5 137.0L263.0 137.3L264.5 137.6L266.0 137.9L267.5 138.2L269.0 138.4L270.5 138.7L272.0 139.0L273.5 139.3L275.0 139.5L276.5 139.8L278.0 140.0L279.5 140.3L281.0 140.6L282.5 140.8L284.0 141.1L285.5 141.3L287.0 141.6L288.5 141.8L290.0 142.1L291.5 142.3L293.0 142.5L294.5 142.8L296.0 143.0L297.5 143.2L299.0 143.5L300.5 143.7L302.0 143.9L303.5 144.2L305.0 144.4L306.5 144.6L308.0 144.9L309.5 145.1L311.0 145.3L312.5 145.5L314.0 145.8L315.5 146.0L317.0 146.2L318.5 146.4L320.0 146.7L321.5 146.9L323.0 147.1L324.5 147.4L326.0 147.6L327.5 147.8L329.0 148.0L330.5 148.3L332.0 148.5L333.5 148.7L335.0 149.0L336.5 149.2L338.0 149.4L339.5 149.7L341.0 149.9L342.5 150.2L344.0 150.4L345.5 150.7L347.0 150.9L348.5 151.2L350.0 151.4L351.5 151.7L353.0 151.9L354.5 152.2L356.0 152.4L357.5 152.7L359.0 153.0L360.5 153.3L362.0 153.5L363.5 153.8L365.0 154.1L366.5 154.4L368.0 154.7L369.5 155.0L371.0 155.3L372.5 155.6L374.0 155.9L375.5 156.2L377.0 156.5L378.5 156.8L380.0 157.1L381.5 157.5L383.0 157.8L384.5 158.1L386.0 158.5L386.5 158.6"/><path d="M84.5 111.0L86.0 111.0L87.5 111.1L89.0 111.1L90.5 111.1L92.0 111.2L93.5 111.2L95.0 111.2L96.5 111.3L98.0 111.3L99.5 111.4L101.0 111.4L102.5 111.4L104.0 111.5L105.5 111.5L107.0 111.6L108.5 111.6L110.0 111.7L111.5 111.7L113.0 111.7L114.5 111.8L116.0 111.8L117.5 111.9L119.0 111.9L120.5 112.0L122.0 112.0L123.5 112.1L125.0 112.1L126.5 112.2L128.0 112.2L129.5 112.3L131.0 112.3L132.5 112.4L134.0 112.4L135.5 112.5L137.0 112.5L138.5 112.6L140.0 112.6L141.5 112.7L143.0 112.7L144.5 112.8L146.0 112.8L147.5 112.9L149.0 113.0L150.5 113.0L152.0 113.1L153.5 113.1L155.0 113.2L156.5 113.2L158.0 113.3L159.5 113.3L161.0 113.4L162.5 113.4L164.0 113.5L165.5 113.5L167.0 113.6L168.5 113.6L170.0 113.7L171.5 113.8L173.0 113.8L174.5 113.9L176.0 113.9L177.5 114.0L179.0 114.0L180.5 114.1L182.0 114.1L183.5 114.2L185.0 114.2L186.5 114.3L188.0 114.3L189.5 114.4L191.0 114.4L192.5 114.5L194.0 114.5L195.5 114.6L197.0 114.6L198.5 114.7L200.0 114.7L201.5 114.7L203.0 114.8L204.5 114.8L206.0 114.9L207.5 114.9L209.0 115.0L210.5 115.0L212.0 115.0L213.5 115.1L215.0 115.1L216.5 115.2L218.0 115.2L219.5 115.2L221.0 115.3L222.5 115.3L224.0 115.3L225.5 115.4L227.0 115.4L228.5 115.4L230.0 115.5L231.5 115.5L233.0 115.5L234.5 115.6L236.0 115.6L237.5 115.6L239.0 115.7L240.5 115.7L242.0 115.8L243.5 115.8L245.0 115.9L246.5 115.9L248.0 116.0L249.5 116.0L251.0 116.1L252.5 116.2L254.0 116.2L255.5 116.3L257.0 116.4L258.5 116.5L260.0 116.6L261.5 116.7L263.0 116.8L264.5 117.0L266.0 117.1L267.5 117.2L269.0 117.4L270.5 117.5L272.0 117.7L273.5 117.9L275.0 118.1L276.5 118.3L278.0 118.5L279.5 118.8L281.0 119.0L282.5 119.3L284.0 119.5L285.5 119.8L287.0 120.1L288.5 120.4L290.0 120.7L291.5 121.0L293.0 121.3L294.5 121.6L296.0 122.0L297.5 122.3L299.0 122.7L300.5 123.0L302.0 123.4L303.5 123.8L305.0 124.1L306.5 124.5L308.0 124.9L309.5 125.3L311.0 125.7L312.5 126.1L314.0 126.5L315.5 126.9L317.0 127.3L318.5 127.7L320.0 128.1L321.5 128.5L323.0 129.0L324.5 129.4L326.0 129.8L327.5 130.3L329.0 130.7L330.5 131.1L332.0 131.6L333.5 132.0L335.0 132.5L336.5 132.9L338.0 133.3L339.5 133.8L341.0 134.2L342.5 134.7L344.0 135.1L345.5 135.6L347.0 136.0L348.5 136.5L350.0 136.9L351.5 137.3L353.0 137.8L354.5 138.2L356.0 138.6L357.5 139.1L359.0 139.5L360.5 139.9L362.0 140.4L363.5 140.8L365.0 141.2L366.5 141.6L368.0 142.0L369.5 142.5L371.0 142.9L372.5 143.3L374.0 143.7L375.5 144.1L377.0 144.4L378.5 144.8L380.0 145.2L381.5 145.6L383.0 145.9L384.5 146.3L386.0 146.6L387.5 147.0L389.0 147.3L390.5 147.7L392.0 148.0L393.5 148.4L395.0 148.7L396.5 149.0L398.0 149.3L399.5 149.6L401.0 150.0L402.5 150.3L404.0 150.6L405.5 150.9L407.0 151.2L408.5 151.5L410.0 151.8L411.5 152.1L413.0 152.4L414.5 152.6L416.0 152.9L417.5 153.2L419.0 153.5L420.5 153.8L422.0 154.1L423.5 154.4L425.0 154.6L426.5 154.9L428.0 155.2L429.5 155.5L431.0 155.8L432.5 156.0L434.0 156.3L435.5 156.6L437.0 156.9L438.5 157.2L440.0 157.5L441.5 157.7L443.0 158.0L444.5 158.3L446.0 158.6L447.5 158.9L449.0 159.2L450.5 159.4L452.0 159.7L453.5 160.0L455.0 160.3L456.5 160.6L458.0 160.8L459.5 161.1L461.0 161.4L462.5 161.7L464.0 161.9L465.5 162.2L467.0 162.5L468.5 162.7L470.0 163.0L471.5 163.2L473.0 163.5L474.5 163.7L476.0 164.0L477.5 164.2L479.0 164.4L480.5 164.7L482.0 164.9L483.5 165.2L485.0 165.4L486.5 165.6L488.0 165.8L489.5 166.1L491.0 166.3L492.5 166.5L494.0 166.7L495.5 166.9L497.0 167.2L498.5 167.4L500.0 167.6L501.5 167.8L503.0 168.0L504.5 168.2L506.0 168.4L507.5 168.6L509.0 168.8L510.5 169.0L512.0 169.2L513.5 169.4L515.0 169.6L516.5 169.8L518.0 170.0L519.5 170.2L521.0 170.4L522.5 170.6L524.0 170.8L525.5 171.0L527.0 171.2L528.5 171.4L530.0 171.6L531.5 171.8L533.0 172.0L534.5 172.2L536.0 172.4L537.5 172.6L539.0 172.7L540.5 172.9L542.0 173.1L543.5 173.3L545.0 173.5L546.5 173.7L548.0 173.9L549.5 174.1L551.0 174.3L552.5 174.5L554.0 174.7L555.5 174.9L557.0 175.1L558.5 175.2L560.0 175.4L561.5 175.6L563.0 175.8L564.5 176.0L566.0 176.2L567.5 176.4L569.0 176.6L570.5 176.8L572.0 177.0L573.5 177.2L575.0 177.4L576.5 177.6L578.0 177.8L579.5 178.0L581.0 178.2L582.5 178.4L584.0 178.6L585.5 178.8L587.0 179.0L588.5 179.2L590.0 179.4L591.5 179.6L593.0 179.8L594.5 180.0L596.0 180.2L597.5 180.4L599.0 180.6L600.5 180.8L602.0 181.0L603.5 181.2L605.0 181.4L606.5 181.6L608.0 181.8L609.5 182.0L611.0 182.2L612.5 182.4L614.0 182.6L615.5 182.8L617.0 183.0L618.5 183.2L620.0 183.4L621.5 183.6L623.0 183.8L624.5 184.0L626.0 184.2L627.5 184.5L629.0 184.7L630.5 184.9L632.0 185.1L633.5 185.3L635.0 185.5L636.5 185.7L638.0 185.9L639.5 186.1L641.0 186.3L642.5 186.5L644.0 186.7L645.5 186.9L647.0 187.2L648.5 187.4L650.0 187.6L651.5 187.8L653.0 188.0L654.5 188.2L656.0 188.4L657.5 188.6L659.0 188.8L660.5 189.0L662.0 189.3L663.5 189.5L665.0 189.7L666.5 189.9L668.0 190.1L669.5 190.3L671.0 190.5L672.5 190.7L674.0 190.9L675.5 191.2L677.0 191.4L678.5 191.6L680.0 191.8L681.5 192.0L683.0 192.2L684.5 192.4L686.0 192.7L687.5 192.9L689.0 193.1L690.5 193.3L692.0 193.5L693.5 193.7L695.0 193.9L696.5 194.2L698.0 194.4L699.5 194.6L701.0 194.8L702.5 195.0L704.0 195.2L705.5 195.4L707.0 195.7L708.5 195.9L710.0 196.1L711.5 196.3L713.0 196.5L714.5 196.7L716.0 197.0L717.5 197.2L719.0 197.4L720.5 197.6L722.0 197.8L723.5 198.0L725.0 198.3L726.5 198.5L728.0 198.7L729.5 198.9L731.0 199.1L732.5 199.3L734.0 199.6L734.2 199.6"/><path d="M84.5 209.2L86.0 209.8L87.5 210.3L89.0 210.9L90.5 211.5L92.0 212.1L93.5 212.6L95.0 213.2L96.5 213.8L98.0 214.3L99.5 214.9L101.0 215.4L102.5 216.0L104.0 216.6L105.5 217.1L107.0 217.7L108.5 218.2L110.0 218.8L111.5 219.4L113.0 219.9L114.5 220.5L116.0 221.0L117.5 221.6L119.0 222.1L120.5 222.7L122.0 223.2L123.5 223.7L125.0 224.3L126.5 224.8L128.0 225.4L129.5 225.9L131.0 226.4L132.5 227.0L134.0 227.5L135.5 228.0L137.0 228.6L138.5 229.1L140.0 229.6L141.5 230.2L143.0 230.7L144.5 231.2L146.0 231.7L147.5 232.3L149.0 232.8L150.5 233.3L152.0 233.8L153.5 234.3L155.0 234.9L156.5 235.4L158.0 235.9L159.5 236.4L161.0 236.9L162.5 237.4L164.0 237.9L165.5 238.4L167.0 238.9L168.5 239.4L170.0 239.9L171.5 240.4L173.0 240.9L174.5 241.4L176.0 241.9L177.5 242.4L179.0 242.9L180.5 243.4L182.0 243.9L183.5 244.4L185.0 244.9L186.5 245.4L188.0 245.8L189.5 246.3L191.0 246.8L192.5 247.3L194.0 247.7L195.5 248.2L197.0 248.7L198.5 249.2L200.0 249.6L201.5 250.1L203.0 250.5L204.5 251.0L206.0 251.4L207.5 251.9L209.0 252.3L210.5 252.8L212.0 253.2L213.5 253.6L215.0 254.1L216.5 254.5L218.0 254.9L219.5 255.3L221.0 255.8L222.5 256.2L224.0 256.6L225.5 257.0L227.0 257.4L228.5 257.8L230.0 258.2L231.5 258.5L233.0 258.9L234.5 259.3L236.0 259.7L237.5 260.0L239.0 260.4L240.5 260.7L242.0 261.1L243.5 261.4L245.0 261.8L246.5 262.1L248.0 262.4L249.5 262.8L251.0 263.1L252.5 263.4L254.0 263.7L255.5 264.1L257.0 264.4L258.5 264.7L260.0 265.0L261.5 265.3L263.0 265.6L264.5 265.9L266.0 266.2L267.5 266.5L269.0 266.8L270.5 267.0L272.0 267.3L273.5 267.6L275.0 267.9L276.5 268.2L278.0 268.4L279.5 268.7L281.0 269.0L282.5 269.2L284.0 269.5L285.5 269.7L287.0 270.0L288.5 270.3L290.0 270.5L291.5 270.7L293.0 271.0L294.5 271.2L296.0 271.5L297.5 271.7L299.0 271.9L300.5 272.2L302.0 272.4L303.5 272.6L305.0 272.9L306.5 273.1L308.0 273.3L309.5 273.5L311.0 273.8L312.5 274.0L314.0 274.2L315.5 274.4L317.0 274.6L318.5 274.8L320.0 275.0L321.5 275.2L323.0 275.4L324.5 275.6L326.0 275.8L327.5 276.0L329.0 276.2L330.5 276.4L332.0 276.6L333.5 276.8L335.0 277.0L336.5 277.2L338.0 277.4L339.5 277.6L341.0 277.7L342.5 277.9L344.0 278.1L345.5 278.3L347.0 278.5L348.5 278.6L350.0 278.8L351.5 279.0L353.0 279.2L354.5 279.3L356.0 279.5L357.5 279.7L359.0 279.9L360.5 280.0L362.0 280.2L363.5 280.4L365.0 280.5L366.5 280.7L368.0 280.8L369.5 281.0L371.0 281.2L372.5 281.3L374.0 281.5L375.5 281.7L377.0 281.8L378.5 282.0L380.0 282.1L381.5 282.3L383.0 282.5L384.5 282.6L386.0 282.8L387.5 282.9L389.0 283.1L390.5 283.2L392.0 283.4L393.5 283.5L395.0 283.7L396.5 283.9L398.0 284.0L399.5 284.2L401.0 284.3L402.5 284.5L404.0 284.6L405.5 284.8L407.0 284.9L408.5 285.1L410.0 285.2L411.5 285.4L413.0 285.6L414.5 285.7L416.0 285.9L417.5 286.0L419.0 286.2L420.5 286.3L422.0 286.5L423.5 286.6L425.0 286.8L426.5 287.0L428.0 287.1L429.5 287.3L431.0 287.4L432.5 287.6L434.0 287.8L435.5 287.9L437.0 288.1L438.5 288.2L440.0 288.4L441.5 288.6L443.0 288.7L444.5 288.9L446.0 289.1L447.5 289.2L449.0 289.4L450.5 289.6L452.0 289.7L453.5 289.9L455.0 290.1L456.5 290.3L458.0 290.4L459.5 290.6L461.0 290.8L462.5 291.0L464.0 291.1L465.5 291.3L467.0 291.5L468.5 291.7L470.0 291.9L471.5 292.1L473.0 292.3L474.5 292.5L476.0 292.7L477.5 292.9L479.0 293.1L480.5 293.3L482.0 293.5L483.5 293.7L485.0 293.9L486.5 294.1L488.0 294.3L489.5 294.5L491.0 294.8L492.5 295.0L494.0 295.2L495.5 295.4L497.0 295.7L498.5 295.9L500.0 296.1L501.5 296.4L503.0 296.6L504.5 296.9L506.0 297.1L507.5 297.4L509.0 297.6L510.5 297.9L512.0 298.1L513.5 298.4L515.0 298.7L516.5 298.9L518.0 299.2L519.5 299.5L521.0 299.8L522.5 300.1L524.0 300.4L525.5 300.7L527.0 301.0L528.5 301.3L530.0 301.6L531.5 301.9L533.0 302.2L534.5 302.5L536.0 302.8L537.5 303.1L539.0 303.4L540.5 303.8L542.0 304.1L543.5 304.4L545.0 304.8L546.5 305.1L548.0 305.4L549.5 305.8L551.0 306.1L552.5 306.5L554.0 306.8L555.5 307.2L557.0 307.6L558.5 307.9L560.0 308.3L561.5 308.6L563.0 309.0L564.5 309.4L566.0 309.8L567.5 310.1L569.0 310.5L570.5 310.9L572.0 311.3L573.5 311.7L575.0 312.1L576.5 312.5L578.0 312.9L579.5 313.3L581.0 313.7L582.5 314.1L584.0 314.5L585.5 314.9L587.0 315.3L588.5 315.7L590.0 316.1L591.5 316.5L593.0 317.0L594.5 317.4L596.0 317.8L597.5 318.3L599.0 318.7L600.5 319.1L602.0 319.6L603.5 320.0L605.0 320.5L606.5 320.9L608.0 321.4L609.5 321.8L611.0 322.3L612.5 322.8L614.0 323.2L615.5 323.7L617.0 324.2L618.5 324.6L620.0 325.1L621.5 325.6L623.0 326.1L624.5 326.5L626.0 327.0L627.5 327.5L629.0 328.0L630.5 328.5L632.0 329.0L633.5 329.5L635.0 330.0L636.5 330.5L638.0 331.0L639.5 331.5L641.0 332.0L642.5 332.5L644.0 333.0L645.5 333.5L647.0 334.1L648.5 334.6L650.0 335.1L651.5 335.6L653.0 336.1L654.5 336.6L656.0 337.2L657.5 337.7L659.0 338.2L660.5 338.8L662.0 339.3L663.5 339.8L665.0 340.3L666.5 340.9L668.0 341.4L669.5 342.0L671.0 342.5L672.5 343.0L674.0 343.6L675.5 344.1L677.0 344.6L678.5 345.2L680.0 345.7L681.5 346.3L683.0 346.8L684.5 347.4L686.0 347.9L687.5 348.4L689.0 349.0L690.5 349.5L692.0 350.1L693.5 350.6L695.0 351.2L696.5 351.7L698.0 352.3L699.5 352.8L701.0 353.4L702.5 353.9L704.0 354.4L705.5 355.0L707.0 355.5L708.5 356.1L710.0 356.6L711.5 357.2L713.0 357.8L714.5 358.3L716.0 358.9L717.5 359.5L719.0 360.1L720.5 360.6L722.0 361.2L723.5 361.8L725.0 362.4L726.5 363.0L728.0 363.7L729.5 364.3L731.0 364.9L732.5 365.6L734.0 366.2L735.5 366.9L737.0 367.6L738.5 368.3L740.0 369.0L741.5 369.7L743.0 370.4L744.5 371.2L746.0 371.9L747.5 372.7L749.0 373.5L750.5 374.3L752.0 375.1L753.5 375.9L755.0 376.7L756.5 377.6L758.0 378.5L759.5 379.4L761.0 380.3L762.5 381.2L764.0 382.2L765.5 383.1L767.0 384.1L768.4 385.1"/><path d="M84.5 215.7L86.0 216.7L87.5 217.8L89.0 218.8L90.5 219.8L92.0 220.9L93.5 221.9L95.0 223.0L96.5 224.0L98.0 225.0L99.5 226.1L101.0 227.1L102.5 228.2L104.0 229.2L105.5 230.2L107.0 231.2L108.5 232.3L110.0 233.3L111.5 234.3L113.0 235.3L114.5 236.4L116.0 237.4L117.5 238.4L119.0 239.4L120.5 240.4L122.0 241.4L123.5 242.3L125.0 243.3L126.5 244.3L128.0 245.3L129.5 246.2L131.0 247.2L132.5 248.1L134.0 249.1L135.5 250.0L137.0 250.9L138.5 251.9L140.0 252.8L141.5 253.7L143.0 254.6L144.5 255.5L146.0 256.3L147.5 257.2L149.0 258.0L150.5 258.9L152.0 259.7L153.5 260.6L155.0 261.4L156.5 262.2L158.0 263.0L159.5 263.7L161.0 264.5L162.5 265.3L164.0 266.0L165.5 266.7L167.0 267.4L168.5 268.1L170.0 268.8L171.5 269.5L173.0 270.2L174.5 270.8L176.0 271.5L177.5 272.1L179.0 272.7L180.5 273.3L182.0 273.9L183.5 274.5L185.0 275.1L186.5 275.7L188.0 276.2L189.5 276.8L191.0 277.3L192.5 277.9L194.0 278.4L195.5 278.9L197.0 279.4L198.5 279.9L200.0 280.4L201.5 280.9L203.0 281.4L204.5 281.9L206.0 282.4L207.5 282.8L209.0 283.3L210.5 283.8L212.0 284.2L213.5 284.6L215.0 285.1L216.5 285.5L218.0 286.0L219.5 286.4L221.0 286.8L222.5 287.3L224.0 287.7L225.5 288.1L227.0 288.5L228.5 288.9L230.0 289.3L231.5 289.8L233.0 290.2L234.5 290.6L236.0 291.0L237.5 291.4L239.0 291.8L240.5 292.2L242.0 292.6L243.5 293.0L245.0 293.4L246.5 293.8L248.0 294.3L249.5 294.7L251.0 295.1L252.5 295.5L254.0 295.9L255.5 296.3L257.0 296.7L258.5 297.1L260.0 297.5L261.5 297.9L263.0 298.2L264.5 298.6L266.0 299.0L267.5 299.4L269.0 299.8L270.5 300.2L272.0 300.6L273.5 301.0L275.0 301.4L276.5 301.8L278.0 302.2L279.5 302.5L281.0 302.9L282.5 303.3L284.0 303.7L285.5 304.1L287.0 304.5L288.5 304.8L290.0 305.2L291.5 305.6L293.0 306.0L294.5 306.4L296.0 306.7L297.5 307.1L299.0 307.5L300.5 307.9L302.0 308.2L303.5 308.6L305.0 309.0L306.5 309.4L308.0 309.7L309.5 310.1L311.0 310.5L312.5 310.9L314.0 311.2L315.5 311.6L317.0 312.0L318.5 312.3L320.0 312.7L321.5 313.1L323.0 313.4L324.5 313.8L326.0 314.2L327.5 314.5L329.0 314.9L330.5 315.2L332.0 315.6L333.5 316.0L335.0 316.3L336.5 316.7L338.0 317.0L339.5 317.4L341.0 317.8L342.5 318.1L344.0 318.5L345.5 318.8L347.0 319.2L348.5 319.5L350.0 319.9L351.5 320.2L353.0 320.6L354.5 320.9L356.0 321.3L357.5 321.6L359.0 322.0L360.5 322.3L362.0 322.7L363.5 323.0L365.0 323.4L366.5 323.7L368.0 324.1L369.5 324.4L371.0 324.8L372.5 325.1L374.0 325.5L375.5 325.8L377.0 326.2L378.5 326.5L380.0 326.8L381.5 327.2L383.0 327.5L384.5 327.9L386.0 328.2L387.5 328.6L389.0 328.9L390.5 329.2L392.0 329.6L393.5 329.9L395.0 330.2L396.5 330.6L398.0 330.9L399.5 331.3L401.0 331.6L402.5 331.9L404.0 332.3L405.5 332.6L407.0 332.9L408.5 333.3L410.0 333.6L411.5 333.9L413.0 334.3L414.5 334.6L416.0 334.9L417.5 335.3L419.0 335.6L420.5 335.9L422.0 336.3L423.5 336.6L425.0 336.9L426.5 337.2L428.0 337.6L429.5 337.9L431.0 338.2L432.5 338.6L434.0 338.9L435.5 339.2L437.0 339.5L438.5 339.9L440.0 340.2L441.5 340.5L443.0 340.8L444.5 341.2L446.0 341.5L447.5 341.8L449.0 342.1L450.5 342.5L452.0 342.8L453.5 343.1L455.0 343.4L456.5 343.7L458.0 344.1L459.5 344.4L461.0 344.7L462.5 345.0L464.0 345.4L465.5 345.7L467.0 346.0L468.5 346.3L470.0 346.7L471.5 347.0L473.0 347.3L474.5 347.6L476.0 348.0L477.5 348.3L479.0 348.6L480.5 348.9L482.0 349.3L483.5 349.6L485.0 349.9L486.5 350.2L488.0 350.6L489.5 350.9L491.0 351.2L492.5 351.5L494.0 351.9L495.5 352.2L497.0 352.5L498.5 352.9L500.0 353.2L501.5 353.5L503.0 353.8L504.5 354.2L506.0 354.5L507.5 354.8L509.0 355.2L510.5 355.5L512.0 355.9L513.5 356.2L515.0 356.5L516.5 356.9L518.0 357.2L519.5 357.5L521.0 357.9L522.5 358.2L524.0 358.6L525.5 358.9L527.0 359.3L528.5 359.6L530.0 360.0L531.5 360.3L533.0 360.6L534.5 361.0L536.0 361.4L537.5 361.7L539.0 362.1L540.5 362.4L542.0 362.8L543.5 363.1L545.0 363.5L546.5 363.8L548.0 364.2L549.5 364.6L551.0 364.9L552.5 365.3L554.0 365.7L555.5 366.0L557.0 366.4L558.5 366.8L560.0 367.1L561.5 367.5L563.0 367.9L564.5 368.3L566.0 368.7L567.5 369.0L569.0 369.4L570.5 369.8L572.0 370.2L573.5 370.6L575.0 371.0L576.5 371.3L578.0 371.7L579.5 372.1L581.0 372.5L582.5 372.9L584.0 373.3L585.5 373.7L587.0 374.1L588.5 374.5L590.0 374.9L591.5 375.4L593.0 375.8L594.5 376.2L596.0 376.6L597.5 377.0L599.0 377.4L600.5 377.9L602.0 378.3L603.5 378.7L605.0 379.1L606.5 379.6L608.0 380.0L609.5 380.4L611.0 380.8L612.5 381.3L614.0 381.7L615.5 382.2L617.0 382.6L618.5 383.0L620.0 383.5L621.5 383.9L623.0 384.4L624.5 384.8L626.0 385.3L627.5 385.7L629.0 386.2L630.5 386.6L632.0 387.1L633.5 387.5L635.0 388.0L636.5 388.4L638.0 388.9L639.5 389.3L641.0 389.8L642.5 390.3L644.0 390.7L645.5 391.2L647.0 391.6L648.5 392.1L650.0 392.6L651.5 393.0L653.0 393.5L654.5 394.0L656.0 394.4L657.5 394.9L659.0 395.4L660.5 395.8L662.0 396.3L663.5 396.8L665.0 397.3L666.5 397.7L668.0 398.2L669.5 398.7L671.0 399.1L672.5 399.6L674.0 400.1L675.5 400.6L677.0 401.0L678.5 401.5L680.0 402.0L681.5 402.5L683.0 402.9L684.5 403.4L686.0 403.9L687.5 404.4L689.0 404.8L690.5 405.3L692.0 405.8L693.5 406.3L695.0 406.8L696.5 407.3L698.0 407.7L699.5 408.2L701.0 408.7L702.5 409.2L704.0 409.7L705.5 410.2L707.0 410.7L708.5 411.1L710.0 411.6L711.5 412.1L713.0 412.6L714.5 413.1L716.0 413.6L717.5 414.1L719.0 414.6L720.5 415.1L722.0 415.6L723.5 416.1L725.0 416.6L726.5 417.1L728.0 417.7L729.5 418.2L731.0 418.7L732.5 419.2L734.0 419.7L735.5 420.2L737.0 420.8L738.5 421.3L740.0 421.8L741.5 422.3L743.0 422.9L744.5 423.4L746.0 423.9L747.5 424.5L749.0 425.0L750.5 425.5L752.0 426.1L753.5 426.6L755.0 427.2L756.5 427.7L758.0 428.3L759.5 428.9L761.0 429.4L762.5 430.0L764.0 430.5L765.5 431.1L767.0 431.7L768.5 432.2L770.0 432.8L771.5 433.4L773.0 434.0L774.5 434.6L776.0 435.1L777.5 435.7L779.0 436.3L780.5 436.9L782.0 437.5L783.5 438.1L785.0 438.7L786.5 439.3L788.0 439.9L789.5 440.5L791.0 441.1L792.5 441.7L794.0 442.3L795.5 442.9L797.0 443.5L798.5 444.1L799.1 444.3"/><path d="M84.5 333.4L86.0 333.8L87.5 334.2L89.0 334.5L90.5 334.9L92.0 335.3L93.5 335.7L95.0 336.0L96.5 336.4L98.0 336.7L99.5 337.1L101.0 337.4L102.5 337.8L104.0 338.1L105.5 338.4L107.0 338.8L108.5 339.1L110.0 339.4L111.5 339.7L113.0 340.0L114.5 340.3L116.0 340.6L117.5 340.9L119.0 341.2L120.5 341.5L122.0 341.8L123.5 342.1L125.0 342.3L126.5 342.6L128.0 342.9L129.5 343.1L131.0 343.4L132.5 343.6L134.0 343.9L135.5 344.1L137.0 344.4L138.5 344.6L140.0 344.8L141.5 345.1L143.0 345.3L144.5 345.5L146.0 345.7L147.5 346.0L149.0 346.2L150.5 346.4L152.0 346.6L153.5 346.8L155.0 347.0L156.5 347.2L158.0 347.4L159.5 347.5L161.0 347.7L162.5 347.9L164.0 348.1L165.5 348.2L167.0 348.4L168.5 348.6L170.0 348.7L171.5 348.9L173.0 349.1L174.5 349.2L176.0 349.4L177.5 349.5L179.0 349.6L180.5 349.8L182.0 349.9L183.5 350.1L185.0 350.2L186.5 350.3L188.0 350.4L189.5 350.6L191.0 350.7L192.5 350.8L194.0 350.9L195.5 351.1L197.0 351.2L198.5 351.3L200.0 351.4L201.5 351.5L203.0 351.7L204.5 351.8L206.0 351.9L207.5 352.0L209.0 352.1L210.5 352.3L212.0 352.4L213.5 352.5L215.0 352.6L216.5 352.8L218.0 352.9L219.5 353.0L221.0 353.2L222.5 353.3L224.0 353.5L225.5 353.6L227.0 353.7L228.5 353.9L230.0 354.1L231.5 354.2L233.0 354.4L234.5 354.6L236.0 354.7L237.5 354.9L239.0 355.1L240.5 355.3L242.0 355.5L243.5 355.7L245.0 355.9L246.5 356.1L248.0 356.4L249.5 356.6L251.0 356.8L252.5 357.1L254.0 357.3L255.5 357.6L257.0 357.9L258.5 358.1L260.0 358.4L261.5 358.7L263.0 359.0L264.5 359.3L266.0 359.6L267.5 360.0L269.0 360.3L270.5 360.7L272.0 361.0L273.5 361.4L275.0 361.8L276.5 362.2L278.0 362.6L279.5 363.0L281.0 363.4L282.5 363.9L284.0 364.3L285.5 364.8L287.0 365.3L288.5 365.8L290.0 366.3L291.5 366.8L293.0 367.4L294.5 367.9L296.0 368.5L297.5 369.1L299.0 369.7L300.5 370.3L302.0 371.0L303.5 371.6L305.0 372.3L306.5 373.0L308.0 373.7L309.5 374.4L311.0 375.1L312.5 375.9L314.0 376.7L315.5 377.5L317.0 378.3L318.5 379.1L319.8 379.9"/><path d="M84.5 353.0L86.0 353.5L87.5 354.0L89.0 354.5L90.5 355.0L92.0 355.5L93.5 356.0L95.0 356.5L96.5 356.9L98.0 357.4L99.5 357.8L101.0 358.2L102.5 358.6L104.0 359.0L105.5 359.4L107.0 359.8L108.5 360.2L110.0 360.5L111.5 360.9L113.0 361.3L114.5 361.6L116.0 361.9L117.5 362.3L119.0 362.6L120.5 362.9L122.0 363.2L123.5 363.5L125.0 363.8L126.5 364.0L128.0 364.3L129.5 364.6L131.0 364.8L132.5 365.1L134.0 365.3L135.5 365.6L137.0 365.8L138.5 366.0L140.0 366.2L141.5 366.5L143.0 366.7L144.5 366.9L146.0 367.1L147.5 367.3L149.0 367.5L150.5 367.6L152.0 367.8L153.5 368.0L155.0 368.2L156.5 368.3L158.0 368.5L159.5 368.6L161.0 368.8L162.5 369.0L164.0 369.1L165.5 369.3L167.0 369.4L168.5 369.5L170.0 369.7L171.5 369.8L173.0 369.9L174.5 370.1L176.0 370.2L177.5 370.3L179.0 370.4L180.5 370.6L182.0 370.7L183.5 370.8L185.0 370.9L186.5 371.0L188.0 371.2L189.5 371.3L191.0 371.4L192.5 371.5L194.0 371.6L195.5 371.7L197.0 371.9L198.5 372.0L200.0 372.1L201.5 372.2L203.0 372.3L204.5 372.4L206.0 372.6L207.5 372.7L209.0 372.8L210.5 372.9L212.0 373.1L213.5 373.2L215.0 373.3L216.5 373.4L218.0 373.6L219.5 373.7L221.0 373.9L222.5 374.0L224.0 374.1L225.5 374.3L227.0 374.4L228.5 374.6L230.0 374.8L231.5 374.9L233.0 375.1L234.5 375.3L236.0 375.4L237.5 375.6L239.0 375.8L240.5 376.0L242.0 376.2L243.5 376.4L245.0 376.6L246.5 376.8L248.0 377.0L249.5 377.2L251.0 377.4L252.5 377.7L254.0 377.9L255.5 378.2L257.0 378.4L258.5 378.7L260.0 378.9L261.5 379.2L263.0 379.5L264.5 379.8L266.0 380.1L267.5 380.4L269.0 380.7L270.5 381.1L272.0 381.5L273.5 381.9L275.0 382.3L276.5 382.8L278.0 383.3L279.5 383.8L281.0 384.4L282.5 385.0L284.0 385.7L285.5 386.4L287.0 387.1L288.5 387.9L290.0 388.8L291.5 389.7L293.0 390.6L294.5 391.5L296.0 392.4L297.5 393.3L299.0 394.3L300.5 395.2L302.0 396.1L303.5 397.0L305.0 397.9L306.5 398.8L308.0 399.7L309.5 400.5L311.0 401.4L312.5 402.2L314.0 402.9L315.5 403.7L317.0 404.4L318.5 405.1L319.8 405.6"/><path d="M84.5 425.1L86.0 425.9L87.5 426.8L89.0 427.7L90.5 428.6L92.0 429.4L93.5 430.3L95.0 431.2L96.5 432.0L98.0 432.9L99.5 433.8L101.0 434.7L102.5 435.5L104.0 436.4L105.5 437.2L107.0 438.1L108.5 438.9L110.0 439.7L111.5 440.5L113.0 441.3L114.5 442.1L116.0 442.9L117.5 443.7L119.0 444.4L120.5 445.1L122.0 445.8L123.5 446.5L125.0 447.2L126.5 447.9L128.0 448.5L129.5 449.2L131.0 449.8L132.5 450.4L134.0 451.0L135.5 451.6L137.0 452.1L138.5 452.7L140.0 453.2L141.5 453.7L143.0 454.2L144.5 454.7L146.0 455.2L147.5 455.7L149.0 456.1L150.5 456.5L152.0 456.9L153.5 457.3L155.0 457.7L156.5 458.1L158.0 458.5L159.5 458.8L161.0 459.1L162.5 459.4L164.0 459.7L165.5 460.0L167.0 460.3L168.5 460.5L170.0 460.8L171.5 461.0L173.0 461.3L174.5 461.5L176.0 461.7L177.5 461.9L179.0 462.1L180.5 462.3L182.0 462.4L183.5 462.6L185.0 462.8L186.5 463.0L188.0 463.1L189.5 463.3L191.0 463.5L192.5 463.6L194.0 463.8L195.5 463.9L197.0 464.1L198.5 464.3L200.0 464.5L201.5 464.6L203.0 464.8L204.5 465.0L206.0 465.2L207.5 465.4L209.0 465.6L210.5 465.8L212.0 466.0L213.5 466.3L215.0 466.5L216.5 466.8L218.0 467.0L219.5 467.3L221.0 467.6L222.5 467.9L224.0 468.2L225.5 468.6L227.0 468.9L228.5 469.3L230.0 469.6L231.5 470.0L233.0 470.4L234.5 470.8L236.0 471.2L237.5 471.7L239.0 472.1L240.5 472.6L242.0 473.1L243.5 473.6L245.0 474.0L246.5 474.6L248.0 475.1L249.5 475.6L251.0 476.2L252.5 476.7L254.0 477.3L255.5 477.8L257.0 478.4L258.5 479.0L260.0 479.6L261.5 480.3L263.0 480.9L264.2 481.4"/></g>
<text transform="translate(75,601.5) scale(0.93,1)" text-anchor="end" font-size="18.5" font-family="Liberation Sans, sans-serif" fill="#1e1e1e" stroke="#1e1e1e" stroke-width="0.15">0</text>
<text transform="translate(75,536.7) scale(0.93,1)" text-anchor="end" font-size="18.5" font-family="Liberation Sans, sans-serif" fill="#1e1e1e" stroke="#1e1e1e" stroke-width="0.15">4</text>
<text transform="translate(75,471.9) scale(0.93,1)" text-anchor="end" font-size="18.5" font-family="Liberation Sans, sans-serif" fill="#1e1e1e" stroke="#1e1e1e" stroke-width="0.15">8</text>
<text transform="translate(75,407.1) scale(0.93,1)" text-anchor="end" font-size="18.5" font-family="Liberation Sans, sans-serif" fill="#1e1e1e" stroke="#1e1e1e" stroke-width="0.15">12</text>
<text transform="translate(75,342.3) scale(0.93,1)" text-anchor="end" font-size="18.5" font-family="Liberation Sans, sans-serif" fill="#1e1e1e" stroke="#1e1e1e" stroke-width="0.15">16</text>
<text transform="translate(75,277.5) scale(0.93,1)" text-anchor="end" font-size="18.5" font-family="Liberation Sans, sans-serif" fill="#1e1e1e" stroke="#1e1e1e" stroke-width="0.15">20</text>
<text transform="translate(75,212.7) scale(0.93,1)" text-anchor="end" font-size="18.5" font-family="Liberation Sans, sans-serif" fill="#1e1e1e" stroke="#1e1e1e" stroke-width="0.15">24</text>
<text transform="translate(75,147.9) scale(0.93,1)" text-anchor="end" font-size="18.5" font-family="Liberation Sans, sans-serif" fill="#1e1e1e" stroke="#1e1e1e" stroke-width="0.15">28</text>
<text transform="translate(75,83.1) scale(0.93,1)" text-anchor="end" font-size="18.5" font-family="Liberation Sans, sans-serif" fill="#1e1e1e" stroke="#1e1e1e" stroke-width="0.15">32</text>
<text transform="translate(85.0,614) scale(0.9,1)" text-anchor="middle" font-size="19" font-family="Liberation Sans, sans-serif" fill="#1e1e1e" stroke="#1e1e1e" stroke-width="0.15">0</text>
<text transform="translate(143.9,614) scale(0.9,1)" text-anchor="middle" font-size="19" font-family="Liberation Sans, sans-serif" fill="#1e1e1e" stroke="#1e1e1e" stroke-width="0.15">2</text>
<text transform="translate(202.9,614) scale(0.9,1)" text-anchor="middle" font-size="19" font-family="Liberation Sans, sans-serif" fill="#1e1e1e" stroke="#1e1e1e" stroke-width="0.15">4</text>
<text transform="translate(261.8,614) scale(0.9,1)" text-anchor="middle" font-size="19" font-family="Liberation Sans, sans-serif" fill="#1e1e1e" stroke="#1e1e1e" stroke-width="0.15">6</text>
<text transform="translate(320.8,614) scale(0.9,1)" text-anchor="middle" font-size="19" font-family="Liberation Sans, sans-serif" fill="#1e1e1e" stroke="#1e1e1e" stroke-width="0.15">8</text>
<text transform="translate(379.7,614) scale(0.9,1)" text-anchor="middle" font-size="19" font-family="Liberation Sans, sans-serif" fill="#1e1e1e" stroke="#1e1e1e" stroke-width="0.15">10</text>
<text transform="translate(438.6,614) scale(0.9,1)" text-anchor="middle" font-size="19" font-family="Liberation Sans, sans-serif" fill="#1e1e1e" stroke="#1e1e1e" stroke-width="0.15">12</text>
<text transform="translate(497.6,614) scale(0.9,1)" text-anchor="middle" font-size="19" font-family="Liberation Sans, sans-serif" fill="#1e1e1e" stroke="#1e1e1e" stroke-width="0.15">14</text>
<text transform="translate(556.5,614) scale(0.9,1)" text-anchor="middle" font-size="19" font-family="Liberation Sans, sans-serif" fill="#1e1e1e" stroke="#1e1e1e" stroke-width="0.15">16</text>
<text transform="translate(615.5,614) scale(0.9,1)" text-anchor="middle" font-size="19" font-family="Liberation Sans, sans-serif" fill="#1e1e1e" stroke="#1e1e1e" stroke-width="0.15">18</text>
<text transform="translate(674.4,614) scale(0.9,1)" text-anchor="middle" font-size="19" font-family="Liberation Sans, sans-serif" fill="#1e1e1e" stroke="#1e1e1e" stroke-width="0.15">20</text>
<text transform="translate(733.3,614) scale(0.9,1)" text-anchor="middle" font-size="19" font-family="Liberation Sans, sans-serif" fill="#1e1e1e" stroke="#1e1e1e" stroke-width="0.15">22</text>
<text transform="translate(792.3,614) scale(0.9,1)" text-anchor="middle" font-size="19" font-family="Liberation Sans, sans-serif" fill="#1e1e1e" stroke="#1e1e1e" stroke-width="0.15">24</text>
<text transform="translate(851.2,614) scale(0.9,1)" text-anchor="middle" font-size="19" font-family="Liberation Sans, sans-serif" fill="#1e1e1e" stroke="#1e1e1e" stroke-width="0.15">26</text>
<text x="30.6" y="78" text-anchor="middle" font-size="17" font-family="Liberation Sans, sans-serif" fill="#1e1e1e" stroke="#1e1e1e" stroke-width="0.15">H</text>
<text x="30.4" y="97.6" text-anchor="middle" font-size="19" font-family="Liberation Sans, sans-serif" fill="#1e1e1e" stroke="#1e1e1e" stroke-width="0.15">(m)</text>
<text x="788" y="644" font-size="17" letter-spacing="1.7" font-family="Liberation Sans, sans-serif" fill="#1e1e1e" stroke="#1e1e1e" stroke-width="0.15">Q(m<tspan font-size="8" dy="-9">3</tspan><tspan dy="9">/h)</tspan></text>
<text transform="translate(792.3,113.3) scale(0.9,1)" text-anchor="middle" font-size="28.5" font-family="Liberation Sans, sans-serif" fill="#1e1e1e" stroke="#1e1e1e" stroke-width="0.15">SF</text>
<text x="334" y="385.2" font-size="18" letter-spacing="1" font-family="Liberation Sans, sans-serif" fill="#1e1e1e" stroke="#1e1e1e" stroke-width="0.15">SF5-20-0.75S</text>
<text x="335" y="416.3" font-size="18" letter-spacing="1" font-family="Liberation Sans, sans-serif" fill="#1e1e1e" stroke="#1e1e1e" stroke-width="0.15">SF6-13-0.55S</text>
<text x="276" y="487.3" font-size="18" letter-spacing="1" font-family="Liberation Sans, sans-serif" fill="#1e1e1e" stroke="#1e1e1e" stroke-width="0.15">SF3-8-0.25S</text>
<text x="557" y="168.5" font-size="18" letter-spacing="1" font-family="Liberation Sans, sans-serif" fill="#1e1e1e" stroke="#1e1e1e" stroke-width="0.15">SF15-22-3S</text>
<text x="0" y="0" transform="translate(400,176.5) rotate(11)" font-size="18" letter-spacing="0.85" font-family="Liberation Sans, sans-serif" fill="#1e1e1e" stroke="#1e1e1e" stroke-width="0.15">SF13.5-22-2.2S</text>
<text x="0" y="0" transform="translate(479.5,340.5) rotate(8.2)" font-size="18" letter-spacing="1" font-family="Liberation Sans, sans-serif" fill="#1e1e1e" stroke="#1e1e1e" stroke-width="0.15">SF10-16-1.1S</text>
<text x="0" y="0" transform="translate(610.3,309.3) rotate(8.1)" font-size="18" letter-spacing="1" font-family="Liberation Sans, sans-serif" fill="#1e1e1e" stroke="#1e1e1e" stroke-width="0.15">SF15-18-1.5S</text>
</svg>
</body></html>
